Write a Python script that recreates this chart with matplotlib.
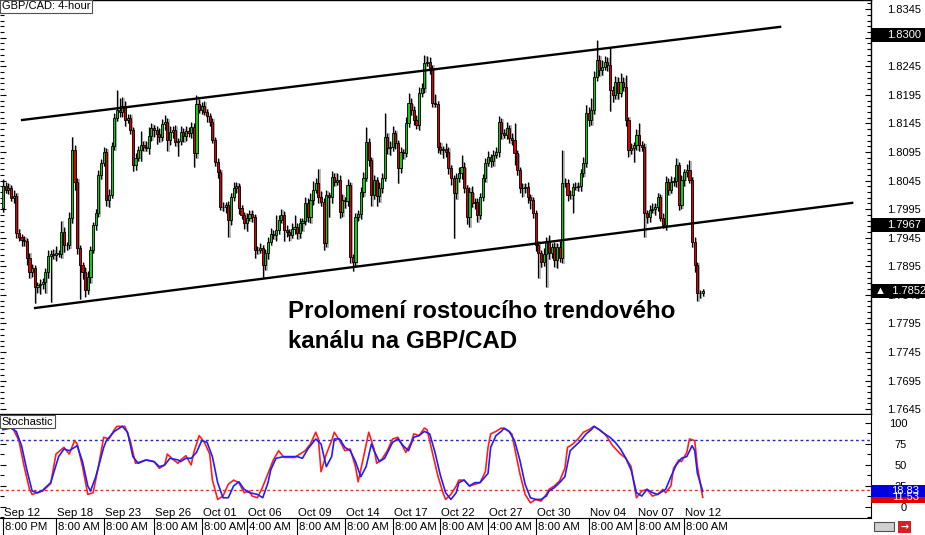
import numpy as np
import matplotlib.pyplot as plt
from matplotlib.patches import Rectangle
from matplotlib.ticker import FixedLocator, MultipleLocator
from matplotlib.transforms import blended_transform_factory

plt.rcParams['font.family'] = ['Liberation Sans', 'DejaVu Sans']

# GBP/CAD 4-hour closes, in 1/10000 of a unit (18036 -> 1.8036), one per bar
close_a = [18036, 18029, 18032, 18015, 18018, 17953, 17946, 17941, 17939, 17910,
           17885, 17892, 17859, 17862, 17864, 17868, 17885, 17913, 17917, 17915,
           17918, 17917, 17955, 17932, 17932, 17980, 18099, 18043, 17927, 17897,
           17885, 17854, 17876, 17924, 17967, 17988, 18055, 18076, 18095, 18011,
           18020, 18106, 18155, 18169, 18165]
close_b = [18176, 18151, 18155, 18134, 18072, 18085, 18099, 18107, 18104, 18102,
           18123, 18137, 18134, 18127, 18121, 18144, 18148, 18116, 18130, 18134,
           18113, 18114, 18130, 18123, 18132, 18128, 18139, 18093, 18179, 18169,
           18176, 18165, 18158, 18148, 18116, 18078, 18060, 17999, 17999, 18002,
           17976, 18016, 18032, 18036, 17997]
close_c = [17985, 17971, 17980, 17987, 17981, 17924, 17924, 17927, 17897, 17918,
           17938, 17952, 17950, 17959, 17976, 17985, 17959, 17955, 17950, 17960,
           17964, 17953, 17971, 17974, 18006, 17981, 18011, 18029, 18041, 18016,
           18008, 17936, 18020, 18016, 18051, 18043, 18046, 17990, 18011, 18009,
           18037, 17911, 17903]
close_d = [17981, 17987, 18025, 18050, 18113, 18081, 18020, 18046, 18018, 18032,
           18050, 18121, 18102, 18104, 18128, 18111, 18067, 18095, 18093, 18146,
           18181, 18169, 18151, 18142, 18198, 18207, 18251, 18253, 18242, 18181,
           18179, 18104, 18099, 18100, 18095, 18067, 18050, 18023, 18050, 18058,
           18069, 18032, 17981, 18025, 18006, 18008]
close_e = [17985, 18016, 18050, 18076, 18086, 18079, 18090, 18095, 18148, 18128,
           18125, 18137, 18120, 18116, 18093, 18064, 18032, 18032, 18034, 18016,
           18011, 17988, 17932, 17918, 17903, 17917, 17938, 17918, 17929, 17906,
           17929, 17910, 18041, 18041, 18020, 18020, 18034, 18034, 18036, 18058,
           18076, 18163, 18151, 18169]
close_f = [18226, 18256, 18238, 18244, 18253, 18247, 18204, 18195, 18218, 18198,
           18218, 18209, 18151, 18099, 18102, 18107, 18125, 18107, 18104, 17988,
           17981, 17994, 17995, 17999, 18016, 17980, 17967, 18043, 18029, 18043,
           18044, 18072, 18002, 18046, 18060, 18064, 18046, 17938, 17897, 17848,
           17848, 17852]
first_open = 17997

# wick lengths beyond the body, in pips
wick_up = [12, 6, 8, 5, 10, 6, 8, 5, 7, 6, 9, 7, 5, 6, 8, 6, 7, 10, 6, 8,
           12, 6, 20, 8, 6, 10, 23, 8, 6, 5, 6, 8, 10, 7, 6, 8, 9, 6, 8, 7,
           10, 6, 8, 35, 20,
           15, 8, 6, 7, 5, 8, 6, 25, 8, 10, 15, 8, 6, 7, 10, 8, 12, 6, 10, 7,
           8, 6, 10, 7, 8, 6, 8, 6, 16, 8, 6, 8, 6, 5, 6, 5, 6, 5, 8, 6,
           7, 8, 10, 6, 5,
           6, 5, 8, 7, 6, 5, 6, 8, 6, 7, 8, 10, 6, 25, 8, 10, 6, 8, 6, 10,
           20, 7, 8, 6, 10, 8, 12, 15, 8, 25, 10, 6, 8, 5, 10, 8, 12, 8, 10, 6,
           10, 5, 6,
           8, 6, 8, 10, 25, 6, 5, 8, 6, 10, 8, 42, 8, 10, 12, 6, 5, 8, 6, 10,
           17, 8, 6, 8, 10, 8, 14, 10, 8, 6, 15, 6, 8, 6, 10, 8, 6, 5, 8, 10,
           20, 8, 6, 8, 10, 6,
           6, 8, 6, 8, 10, 6, 8, 8, 10, 6, 8, 10, 6, 8, 30, 6, 5, 8, 6, 8,
           6, 5, 6, 8, 6, 10, 8, 12, 6, 8, 6, 10, 58, 8, 6, 8, 6, 8, 6, 8,
           10, 15, 10, 21,
           10, 35, 8, 12, 10, 8, 31, 6, 10, 8, 15, 8, 21, 6, 8, 6, 10, 20, 8, 6,
           5, 8, 10, 6, 8, 6, 8, 10, 6, 10, 8, 12, 6, 8, 6, 10, 17, 6, 8, 5,
           6, 4]
wick_dn = [7, 6, 8, 6, 10, 8, 6, 10, 8, 12, 10, 8, 28, 10, 15, 8, 20, 10, 80, 8,
           10, 6, 8, 12, 8, 6, 10, 15, 10, 60, 12, 12, 8, 10, 6, 8, 6, 8, 6, 10,
           12, 6, 8, 6, 8,
           8, 10, 6, 8, 10, 8, 6, 20, 8, 6, 10, 8, 12, 18, 8, 6, 10, 20, 8, 10,
           8, 25, 6, 10, 8, 6, 8, 25, 8, 6, 8, 6, 10, 8, 6, 8, 10, 6, 8, 10,
           30, 8, 6, 8, 10,
           8, 10, 15, 6, 8, 15, 8, 6, 21, 8, 10, 6, 8, 10, 8, 6, 20, 8, 10, 6,
           8, 10, 8, 15, 6, 8, 10, 8, 6, 10, 8, 12, 8, 35, 10, 8, 6, 10, 8, 12,
           8, 10, 16,
           8, 6, 10, 8, 6, 10, 20, 8, 18, 10, 8, 6, 10, 12, 8, 10, 26, 8, 10, 6,
           8, 10, 8, 6, 8, 6, 8, 6, 10, 8, 6, 10, 8, 15, 8, 10, 12, 79, 10, 8,
           10, 8, 12, 17, 8, 10,
           12, 8, 6, 8, 6, 10, 8, 6, 8, 10, 6, 8, 10, 8, 20, 10, 8, 15, 8, 10,
           15, 8, 10, 44, 10, 8, 58, 10, 8, 12, 14, 8, 10, 8, 10, 8, 31, 6, 8, 10,
           6, 8, 10, 9,
           8, 6, 10, 8, 6, 10, 38, 12, 8, 10, 6, 8, 10, 12, 8, 24, 8, 10, 8, 42,
           10, 8, 6, 10, 8, 6, 5, 8, 10, 6, 8, 10, 8, 6, 10, 8, 6, 10, 12, 14,
           9, 5]

# stochastic %K (red) and %D (blue): bar index, value
k_bar = [0, 2, 4, 6, 8, 10, 11, 13, 15, 18, 20, 23, 25, 27, 28, 30, 32, 34, 36, 38,
         40, 42, 43, 46, 48, 50, 52, 54, 57, 59, 61, 62, 64, 66, 67, 69, 71, 72, 74, 76,
         78, 79, 81, 83, 85, 87, 89, 91, 93, 94, 96, 98, 100, 102, 104, 106, 108, 110, 112, 114,
         116, 118, 119, 120, 122, 124, 125, 127, 129, 131, 133, 134, 136, 138, 140, 141, 143, 145, 147, 149,
         150, 152, 154, 155, 157, 159, 160, 162, 164, 166, 167, 169, 171, 172, 174, 176, 178, 180, 182, 183,
         184, 186, 188, 190, 192, 193, 195, 197, 199, 201, 203, 205, 206, 208, 210, 212, 213, 215, 217, 219,
         221, 223, 225, 227, 228, 230, 233, 235, 237, 238, 239, 241, 243, 245, 247, 249, 250, 252, 253, 255,
         256, 258, 259, 261, 262, 264]
k_val = [94, 96, 92, 79, 48, 21, 15, 17, 19, 28, 63, 71, 63, 79, 75, 48, 15, 17, 48, 83,
         81, 92, 96, 96, 79, 52, 54, 56, 54, 46, 50, 63, 57, 52, 56, 61, 50, 65, 85, 77,
         63, 32, 9, 13, 27, 32, 29, 17, 19, 13, 11, 24, 40, 56, 67, 59, 59, 59, 63, 67,
         75, 89, 81, 42, 63, 79, 89, 79, 67, 69, 48, 30, 59, 89, 69, 52, 57, 67, 81, 83,
         77, 65, 77, 87, 85, 94, 92, 65, 38, 17, 9, 15, 25, 32, 32, 25, 27, 29, 42, 71,
         87, 90, 94, 92, 87, 71, 40, 15, 5, 9, 7, 15, 21, 25, 31, 46, 71, 75, 81, 89,
         92, 96, 92, 87, 83, 73, 63, 58, 48, 29, 11, 19, 21, 13, 15, 21, 17, 25, 46, 56,
         54, 65, 81, 79, 48, 11.53]
d_bar = [0, 3, 5, 7, 9, 11, 13, 15, 18, 21, 23, 25, 28, 30, 32, 33, 35, 38, 39, 42,
         45, 47, 49, 51, 54, 57, 59, 61, 63, 66, 67, 69, 71, 73, 75, 77, 79, 81, 83, 85,
         87, 89, 91, 93, 96, 98, 100, 101, 103, 106, 108, 111, 113, 115, 118, 120, 122, 124, 125, 127,
         129, 131, 133, 135, 137, 139, 140, 142, 144, 147, 149, 151, 153, 155, 157, 159, 161, 163, 165, 167,
         169, 171, 172, 174, 176, 178, 180, 183, 184, 186, 188, 189, 191, 193, 195, 197, 199, 201, 203, 205,
         206, 208, 210, 212, 214, 216, 218, 220, 222, 223, 225, 227, 229, 231, 233, 235, 237, 239, 241, 243,
         245, 247, 249, 250, 252, 254, 256, 258, 260, 261, 262, 264]
d_val = [92, 94, 90, 73, 44, 19, 17, 20, 29, 60, 69, 67, 73, 54, 25, 19, 36, 71, 79, 90,
         96, 89, 60, 52, 56, 54, 48, 50, 58, 56, 54, 58, 58, 65, 79, 77, 60, 29, 11, 11,
         25, 30, 21, 17, 15, 11, 29, 44, 58, 60, 60, 60, 58, 69, 81, 75, 48, 60, 81, 81,
         71, 67, 54, 36, 48, 75, 67, 54, 58, 77, 81, 73, 67, 83, 85, 90, 87, 65, 38, 17,
         9, 17, 29, 32, 25, 29, 29, 40, 71, 85, 90, 94, 90, 79, 56, 27, 11, 9, 9, 13,
         19, 23, 29, 36, 67, 73, 79, 87, 92, 96, 92, 87, 83, 77, 69, 58, 44, 17, 13, 21,
         17, 15, 19, 21, 36, 50, 58, 60, 73, 67, 40, 18.83]

# channel lines: (bar index, price) anchors
upper_bar = [7.2, 293.2]
upper_price = [1.8151, 1.8314]
lower_bar = [12.1, 320.4]
lower_price = [1.7822, 1.8006]

tag_prices = [1.8300, 1.7967, 1.7852]
tag_texts = ['1.8300', '1.7967', '\u25b2  1.7852']

date_bar = [0, 20, 38, 57, 75, 92, 111, 129, 147, 165, 183, 201, 221, 239, 257]
date_lbl = ['Sep 12', 'Sep 18', 'Sep 23', 'Sep 26', 'Oct 01', 'Oct 06', 'Oct 09', 'Oct 14',
            'Oct 17', 'Oct 22', 'Oct 27', 'Oct 30', 'Nov 04', 'Nov 07', 'Nov 12']
time_lbl = ['8:00 PM', '8:00 AM', '8:00 AM', '8:00 AM', '8:00 AM', '4:00 AM', '8:00 AM', '8:00 AM',
            '8:00 AM', '8:00 AM', '4:00 AM', '8:00 AM', '8:00 AM', '8:00 AM', '8:00 AM']

note_lines = ['Prolomení rostoucího trendového', 'kanálu na GBP/CAD']

closes = np.array(close_a + close_b + close_c + close_d + close_e + close_f) / 10000
opens = np.concatenate([[first_open / 10000], closes[:-1]])  # open = previous close
highs = np.maximum(opens, closes) + np.array(wick_up) / 10000
lows = np.minimum(opens, closes) - np.array(wick_dn) / 10000
bars = np.arange(len(closes))

W, H = 925, 535
fig = plt.figure(figsize=(W / 100, H / 100), dpi=100)


def px_box(x0, y0, x1, y1):
    return [x0 / W, 1 - y1 / H, (x1 - x0) / W, (y1 - y0) / H]


ax = fig.add_axes(px_box(0, 0, 871, 414))
ax2 = fig.add_axes(px_box(0, 415, 871, 518))

# candles: grey shadow, wick, body
body_lo = np.minimum(opens, closes)
body_h = np.maximum(np.abs(closes - opens), 0.00003)
colors = np.where(closes >= opens, '#16c816', '#dc0000')
shift = 0.00014
ax.vlines(bars + 0.5, lows - shift, highs - shift, color='#a8a8a8', lw=1.1, zorder=1)
ax.bar(bars + 0.5, body_h, bottom=body_lo - shift, width=0.8, color='#a8a8a8', zorder=1)
ax.vlines(bars, lows, highs, color='black', lw=0.9, zorder=2)
ax.bar(bars, body_h, bottom=body_lo, width=0.8, color=colors, edgecolor='black',
       linewidth=0.6, zorder=3)

ax.plot(upper_bar, upper_price, color='black', lw=1.7, zorder=4)
ax.plot(lower_bar, lower_price, color='black', lw=1.7, zorder=4)

xlim = (-1.13, 327.5)
ax.set_xlim(*xlim)
ax.set_ylim(1.76365, 1.8361)
ax.set_xticks([])
ax.yaxis.tick_right()
major = np.round(np.arange(1.7645, 1.8350, 0.005), 4)
ax.yaxis.set_major_locator(FixedLocator(major))
ax.yaxis.set_minor_locator(FixedLocator(np.arange(1.7645, 1.8360, 0.001)))
# 1.8295 sits fully under the 1.8300 tag, as in the source
ax.yaxis.set_major_formatter(plt.FuncFormatter(
    lambda v, p: '' if abs(v - 1.8295) < 1e-6 else f'{v:.4f}'))
ax.tick_params(axis='y', which='both', direction='in', left=True, right=True,
               labelleft=False, labelright=True, labelsize=8, pad=11.5, width=0.8)
ax.tick_params(axis='y', which='major', length=4)
ax.tick_params(axis='y', which='minor', length=3)
ax.spines['left'].set_visible(False)
for s in ['top', 'bottom', 'right']:
    ax.spines[s].set_linewidth(1.0)

tr = blended_transform_factory(ax.transAxes, ax.transData)
for p, t in zip(tag_prices, tag_texts):
    ax.add_patch(Rectangle((1.0, p - 0.00118), 54 / 871, 0.00236, transform=tr,
                           fc='black', ec='none', clip_on=False, zorder=10))
    xt = 875 / 871 if t.startswith('\u25b2') else 887 / 871
    ax.text(xt, p, t, transform=tr, color='white', fontsize=8, va='center',
            ha='left', zorder=11, clip_on=False)

ax.text(0.002, 0.997, 'GBP/CAD: 4-hour', transform=ax.transAxes, fontsize=8,
        va='top', ha='left', zorder=12,
        bbox=dict(boxstyle='square,pad=0.15', fc='white', ec='#505050', lw=0.8))

for i, line in enumerate(note_lines):
    fig.text(288 / W, 1 - (318 + 30 * i) / H, line, fontsize=17.4, fontweight='bold',
             va='baseline', ha='left')

# stochastic panel
ax2.plot(k_bar, k_val, color='#ff1e1e', lw=1.2, zorder=3)
ax2.plot(d_bar, d_val, color='#1e1eff', lw=1.2, zorder=4)
ax2.axhline(80, color='#2828b4', lw=1.0, ls=(0, (2, 2)), zorder=2)
ax2.axhline(20, color='#e03030', lw=1.0, ls=(0, (2, 2)), zorder=2)
ax2.set_xlim(*xlim)
ax2.set_ylim(-13.1, 109.5)
ax2.set_xticks([])
ax2.yaxis.tick_right()
ax2.set_yticks([0, 25, 50, 75, 100])
ax2.yaxis.set_minor_locator(MultipleLocator(12.5))
ax2.tick_params(axis='y', which='both', direction='in', left=True, right=True,
                labelleft=False, labelright=True, labelsize=8, pad=26, width=0.8)
ax2.tick_params(axis='y', which='major', length=4)
ax2.tick_params(axis='y', which='minor', length=3)
for lab in ax2.get_yticklabels():
    lab.set_horizontalalignment('right')
ax2.spines['left'].set_visible(False)
ax2.spines['top'].set_visible(False)

tr2 = blended_transform_factory(ax2.transAxes, ax2.transData)
for v, c in [(k_val[-1], '#e00000'), (d_val[-1], '#0000e0')]:
    ax2.add_patch(Rectangle((1.0, v - 7.1), 54 / 871, 14.2, transform=tr2,
                            fc=c, ec='none', clip_on=False, zorder=10))
    ax2.text(919 / 871, v, f'{v:.2f}', transform=tr2, color='white', fontsize=8,
             va='center', ha='right', zorder=11, clip_on=False)

ax2.text(0.002, 0.985, 'Stochastic', transform=ax2.transAxes, fontsize=8,
         va='top', ha='left', zorder=12,
         bbox=dict(boxstyle='square,pad=0.15', fc='white', ec='#505050', lw=0.8))

# two-row time axis
trx = blended_transform_factory(ax2.transData, ax2.transAxes)
for b, dl, tl in zip(date_bar, date_lbl, time_lbl):
    ax2.text(b + 0.4, 0.048, dl, transform=trx, fontsize=8.2, va='center', ha='left',
             clip_on=False)
    ax2.text(b + 0.8, -0.087, tl, transform=trx, fontsize=8.2, va='center', ha='left',
             clip_on=False)
    ax2.plot([b, b], [0, -0.17], transform=trx, color='black', lw=0.8, clip_on=False)

# bottom-right buttons
fig.add_artist(Rectangle((874 / W, 1 - 531 / H), 20 / W, 9 / H, transform=fig.transFigure,
                         fc='#d0d0d0', ec='#505050', lw=0.8))
fig.add_artist(Rectangle((898 / W, 1 - 533 / H), 13 / W, 12 / H, transform=fig.transFigure,
                         fc='#d82020', ec='none'))
fig.text(904.5 / W, 1 - 527 / H, '\u2192', color='white', fontsize=7, ha='center',
         va='center', family='DejaVu Sans', fontweight='bold')

fig.savefig('out.png', dpi=100)
